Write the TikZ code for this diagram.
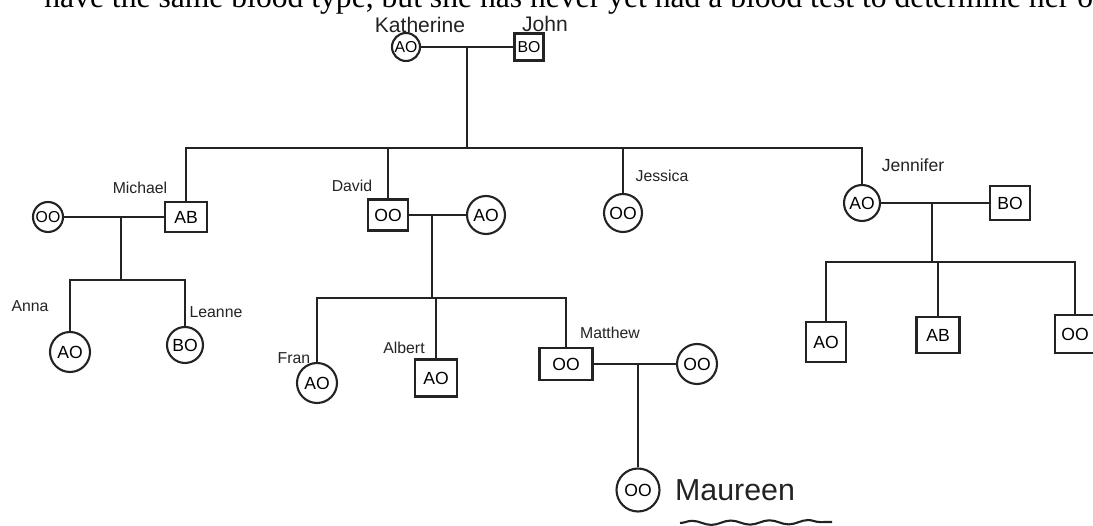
\documentclass[tikz,border=0pt]{standalone}
\usepackage{fontspec}
\setmainfont{Liberation Sans}
\newfontfamily\printfont{Liberation Serif}
\usetikzlibrary{decorations.pathmorphing}
\definecolor{pedink}{RGB}{35,35,35}
\tikzset{
  female/.style={draw=pedink, line width=1.2pt, circle, inner sep=0pt, minimum size=0.76cm, font=\normalsize},
  male/.style={draw=pedink, line width=1.2pt, rectangle, inner sep=0pt, minimum width=0.8cm, minimum height=0.62cm, font=\normalsize},
  persname/.style={font=\small, text=pedink, inner sep=1pt},
  link/.style={draw=pedink, line width=1.2pt},
}

\begin{document}
\begin{tikzpicture}[x=0.02cm, y=-0.02cm]
\useasboundingbox (0,0) rectangle (1093,526);
% printed line cut at the top
\node[anchor=base west, inner sep=0pt, font=\printfont\fontsize{18}{20}\selectfont] (intro) at (44,8)
  {have the same blood type, but she has never yet had a blood test to determine her o};

% Katherine and John
\node[female, minimum size=0.56cm, font=\small] (katherine) at (406,47) {AO};
\node[male, minimum width=0.58cm, minimum height=0.54cm, font=\small] (john) at (529,47) {BO};
\node[persname, font=\large] (katherinename) at (420,25) {Katherine};
\node[persname, font=\large] (johnname) at (545,24) {John};
\draw[link] (katherine) -- (john);
\coordinate (kj) at (467,47);
\coordinate (sib) at (467,148);
\draw[link] (kj) -- (sib);

% their children
\node[male, minimum width=0.84cm, minimum height=0.6cm] (michael) at (186,217) {AB};
\node[male] (david) at (388,215) {OO};
\node[female] (jessica) at (623,213) {OO};
\node[female, minimum size=0.72cm] (jennifer) at (862,203) {AO};
\draw[link] (michael.north) -- (michael.north |- sib) -- (jennifer.north |- sib) -- (jennifer.north);
\draw[link] (david.north) -- (david.north |- sib);
\draw[link] (jessica.north) -- (jessica.north |- sib);
\node[persname] (michaelname) at (140,188) {Michael};
\node[persname] (davidname) at (352,186) {David};
\node[persname] (jessicaname) at (662,176) {Jessica};
\node[persname, font=\normalsize] (jennifername) at (913,165) {Jennifer};

% Michael's family
\node[female, minimum size=0.6cm, font=\small] (mwife) at (48,217) {OO};
\draw[link] (mwife) -- (michael);
\coordinate (mm) at (121,217);
\coordinate (mmkids) at (121,280);
\draw[link] (mm) -- (mmkids);
\node[female, minimum size=0.8cm] (anna) at (70,352) {AO};
\node[female, minimum size=0.72cm] (leanne) at (185,345) {BO};
\draw[link] (anna.north) |- (mmkids) -| (leanne.north);
\node[persname] (annaname) at (30,306) {Anna};
\node[persname] (leannename) at (216,312) {Leanne};

% David's family
\node[female] (dwife) at (486,215) {AO};
\draw[link] (david) -- (dwife);
\coordinate (dd) at (432,215);
\coordinate (ddkids) at (432,298);
\draw[link] (dd) -- (ddkids);
\node[female, minimum size=0.8cm] (fran) at (317,383) {AO};
\node[male, minimum width=0.84cm, minimum height=0.74cm] (albert) at (436,378) {AO};
\node[male, minimum width=1.06cm, minimum height=0.64cm] (matthew) at (566,364) {OO};
\draw[link] (fran.north) |- (ddkids) -| (matthew.north);
\draw[link] (albert.north) -- (albert.north |- ddkids);
\node[persname] (franname) at (294,358) {Fran};
\node[persname] (albertname) at (404,348) {Albert};
\node[persname] (matthewname) at (610,333) {Matthew};

% Matthew's family
\node[female, minimum size=0.8cm] (mtwife) at (697,364) {OO};
\draw[link] (matthew) -- (mtwife);
\node[female, minimum size=0.86cm] (maureen) at (638,490) {OO};
\draw[link] (maureen.north) -- (maureen.north |- matthew.east);
\node[persname, font=\LARGE] (maureenname) at (735,490) {Maureen};
\draw[pedink, line width=1.2pt, decorate, decoration={snake, amplitude=1.2pt, segment length=22pt}] (680,523) -- (832,522);

% Jennifer's family
\node[male, minimum height=0.68cm] (jhusband) at (1010,203) {BO};
\draw[link] (jennifer) -- (jhusband);
\coordinate (jj) at (932,203);
\coordinate (jjkids) at (932,262);
\draw[link] (jj) -- (jjkids);
\node[male, minimum height=0.8cm] (jchild1) at (826,342) {AO};
\node[male, minimum width=0.86cm, minimum height=0.72cm] (jchild2) at (938,335) {AB};
\node[male, minimum width=0.8cm, minimum height=0.76cm] (jchild3) at (1075,334) {OO};
\draw[link] (jchild1.north) |- (jjkids) -| (jchild3.north);
\draw[link] (jchild2.north) -- (jchild2.north |- jjkids);
\end{tikzpicture}
\end{document}
